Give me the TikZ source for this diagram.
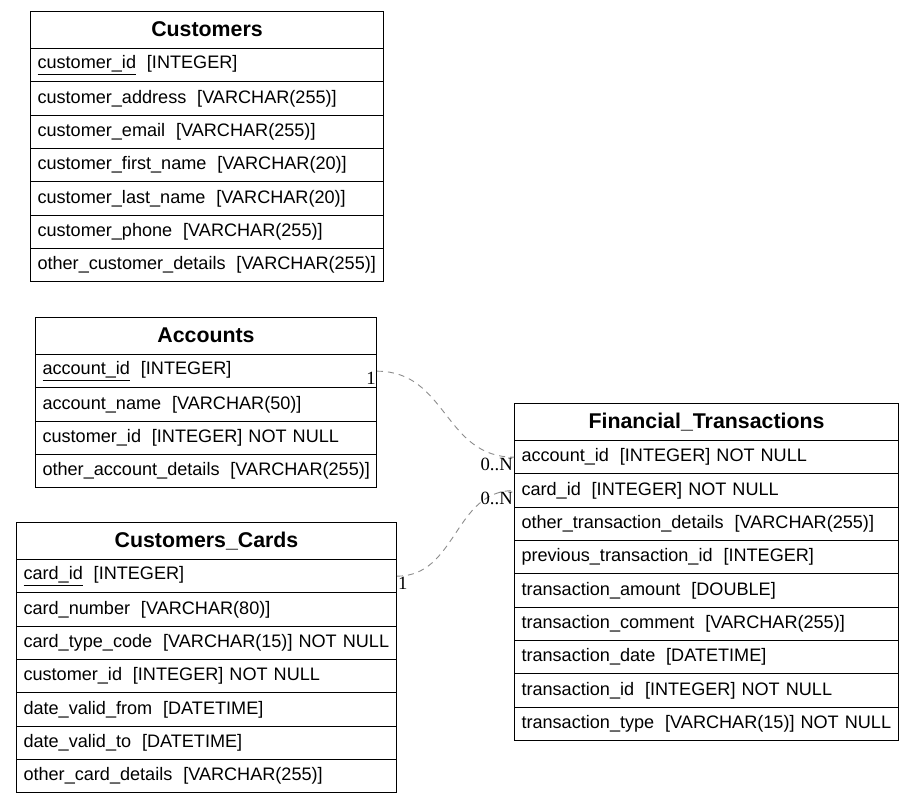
\documentclass[tikz,border=0pt]{standalone}
\usepackage{fontspec}
\setmainfont{Liberation Sans}
\newfontfamily\multfont{Liberation Serif}

\newcommand\colgap{\hspace{0.6em}}
\newcommand\pk[1]{\underline{#1}}

% \ertable{name}{x}{y top}{width}{title}{rows}
\newcommand\ertable[6]{%
  \pgfmathsetmacro\tabtw{#4-14}%
  \node[hdr, minimum width=#4pt] (#1-h) at (#2,#3) {\raisebox{2.5pt}{#5}};
  \foreach \r [count=\i from 1] in {#6} {
    \node[cell, text width=\tabtw pt] (#1-\i) at (#2,{#3+37+(\i-1)*33.33}) {\mbox{\r}};
  }%
}

\begin{document}
\begin{tikzpicture}[x=1pt,y=-1pt,
  hdr/.style={draw=black, line width=1pt, anchor=north west, inner sep=0pt,
    minimum height=37pt, font=\fontsize{21.33}{25}\selectfont\bfseries},
  cell/.style={draw=black, line width=1pt, anchor=north west, inner xsep=7pt,
    inner ysep=0pt, minimum height=33.33pt, align=left,
    font=\fontsize{18.1}{22}\selectfont},
  link/.style={draw=gray!90, line width=0.9pt, dash pattern=on 6pt off 5pt},
  mult/.style={inner sep=1pt, font=\fontsize{18.67}{22}\multfont}]

\useasboundingbox (0,0) rectangle (915,804);

\ertable{cust}{30}{11}{353}{Customers}{%
  {\pk{customer\_id}\colgap[INTEGER]},
  {customer\_address\colgap[VARCHAR(255)]},
  {customer\_email\colgap[VARCHAR(255)]},
  {customer\_first\_name\colgap[VARCHAR(20)]},
  {customer\_last\_name\colgap[VARCHAR(20)]},
  {customer\_phone\colgap[VARCHAR(255)]},
  {other\_customer\_details\colgap[VARCHAR(255)]}}

\ertable{acc}{35}{317}{341}{Accounts}{%
  {\pk{account\_id}\colgap[INTEGER]},
  {account\_name\colgap[VARCHAR(50)]},
  {customer\_id\colgap[INTEGER] NOT NULL},
  {other\_account\_details\colgap[VARCHAR(255)]}}

\ertable{card}{16}{522}{380}{Customers\_Cards}{%
  {\pk{card\_id}\colgap[INTEGER]},
  {card\_number\colgap[VARCHAR(80)]},
  {card\_type\_code\colgap[VARCHAR(15)] NOT NULL},
  {customer\_id\colgap[INTEGER] NOT NULL},
  {date\_valid\_from\colgap[DATETIME]},
  {date\_valid\_to\colgap[DATETIME]},
  {other\_card\_details\colgap[VARCHAR(255)]}}

\ertable{ft}{514}{403}{384}{Financial\_Transactions}{%
  {account\_id\colgap[INTEGER] NOT NULL},
  {card\_id\colgap[INTEGER] NOT NULL},
  {other\_transaction\_details\colgap[VARCHAR(255)]},
  {previous\_transaction\_id\colgap[INTEGER]},
  {transaction\_amount\colgap[DOUBLE]},
  {transaction\_comment\colgap[VARCHAR(255)]},
  {transaction\_date\colgap[DATETIME]},
  {transaction\_id\colgap[INTEGER] NOT NULL},
  {transaction\_type\colgap[VARCHAR(15)] NOT NULL}}

% relationships
\draw[link] (acc-1.east) .. controls +(70,0) and +(-70,0) .. (ft-1.west);
\draw[link] (card-1.east) .. controls +(60,0) and +(-60,0) .. (ft-2.west);

\node[mult, anchor=north east] (m1) at (acc-1.east) {1};
\node[mult, anchor=north east] (m2) at (ft-1.west) {0..N};
\node[mult, anchor=north west] (m3) at (card-1.east) {1};
\node[mult, anchor=north east] (m4) at (ft-2.west) {0..N};

\end{tikzpicture}
\end{document}
